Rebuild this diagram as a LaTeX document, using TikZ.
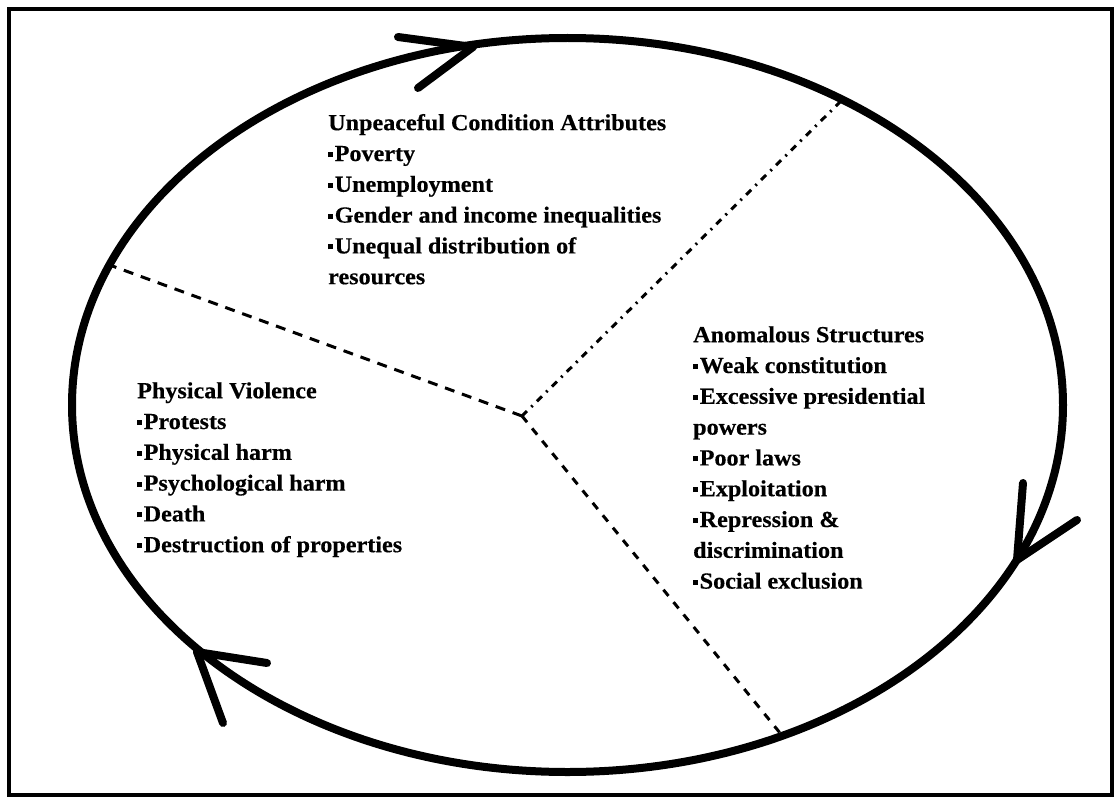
\documentclass[tikz,border=0pt]{standalone}
\usepackage{fontspec}
\setmainfont{Liberation Serif}[FakeStretch=1.05,BoldFeatures={FakeBold=0.4}]
\usetikzlibrary{shapes.geometric}
\newcommand\sqb{\raisebox{4pt}{\rule{5pt}{5pt}}\hspace{1.5pt}}
\begin{document}
\begin{tikzpicture}[x=1pt,y=-1pt,
  frame/.style={line width=4pt},
  ring/.style={draw, ellipse, line width=8pt, minimum width=991pt, minimum height=734pt, inner sep=0pt, outer sep=0pt},
  barb/.style={line width=8pt, line cap=round, line join=round},
  divA/.style={line width=3pt, dash pattern=on 10pt off 8pt},
  divB/.style={line width=3pt, dash pattern=on 7pt off 6pt on 2pt off 6pt},
  divC/.style={line width=3pt, dash pattern=on 8pt off 8pt},
  block/.style={anchor=north west, align=left, inner sep=0pt, font=\fontsize{23}{30.8}\selectfont\bfseries}]
\useasboundingbox (0,0) rectangle (1120,800);
\draw[frame] (9,9) rectangle (1112,795);
\node[ring] (ring) at (567.5,405) {};
% centre of the three dividers
\coordinate (ctr) at (522,416);
\draw[divA] (ctr) -- (ring.163);
\draw[divB] (ctr) -- (ring.48);
\draw[divC] (ctr) -- (ring.303);
% arrow heads on the cycle
\coordinate (tTip) at (473,47);
\coordinate (tA) at (398,37);
\coordinate (tB) at (418,88);
\draw[barb] (tA) -- (tTip) -- (tB);
\coordinate (rTip) at (1017,560);
\coordinate (rA) at (1023,483);
\coordinate (rB) at (1077,520);
\draw[barb] (rA) -- (rTip) -- (rB);
\coordinate (lTip) at (197,652);
\coordinate (lA) at (267,663);
\coordinate (lB) at (223,723);
\draw[barb] (lA) -- (lTip) -- (lB);
% texts
\node[block] (uca) at (328,113) {\rule{0pt}{17pt}Unpeaceful Condition Attributes\\
\sqb Poverty\\
\sqb Unemployment\\
\sqb Gender and income inequalities\\
\sqb Unequal distribution of\\
resources};
\node[block] (ans) at (693,325) {\rule{0pt}{17pt}Anomalous Structures\\
\sqb Weak constitution\\
\sqb Excessive presidential\\
powers\\
\sqb Poor laws\\
\sqb Exploitation\\
\sqb Repression \&\\
discrimination\\
\sqb Social exclusion};
\node[block] (phv) at (137,381) {\rule{0pt}{17pt}Physical Violence\\
\sqb Protests\\
\sqb Physical harm\\
\sqb Psychological harm\\
\sqb Death\\
\sqb Destruction of properties};
\end{tikzpicture}
\end{document}
